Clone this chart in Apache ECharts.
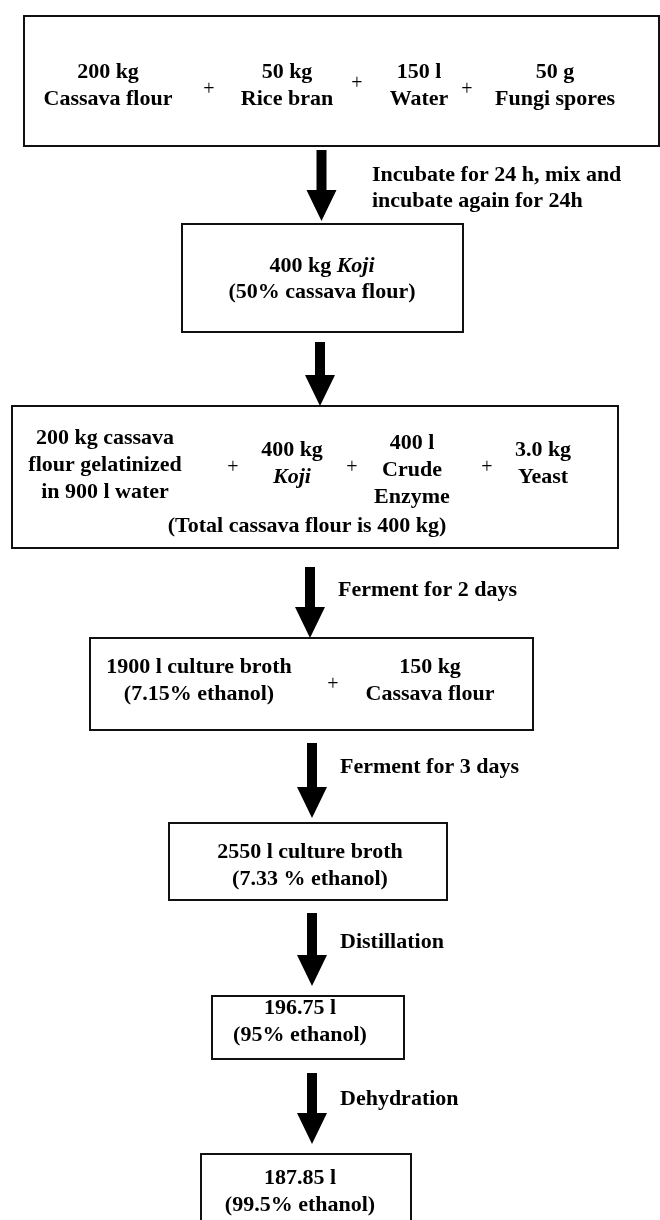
<!DOCTYPE html>
<html>
<head>
<meta charset="utf-8">
<script src="https://cdn.jsdelivr.net/npm/echarts@6/dist/echarts.min.js"></script>
<style>
  html, body { margin: 0; padding: 0; background: #fff; }
  #flow-chart { width: 660px; height: 1220px; }
</style>
</head>
<body>
<div id="flow-chart"></div>
<script>
// text of every step, top to bottom ({i|..} = italic)
const mixInputs = [['200 kg', 'Cassava flour'], ['50 kg', 'Rice bran'], ['150 l', 'Water'], ['50 g', 'Fungi spores']]
const kojiLines = ['400 kg {i|Koji}', '(50% cassava flour)']
const fermInputs = [
  ['200 kg cassava', 'flour gelatinized', 'in 900 l water'],
  ['400 kg', '{i|Koji}'],
  ['400 l', 'Crude', 'Enzyme'],
  ['3.0 kg', 'Yeast']
]
const fermNote = '(Total cassava flour is 400 kg)'
const feedInputs = [['1900 l culture broth', '(7.15% ethanol)'], ['150 kg', 'Cassava flour']]
const brothLines = ['2550 l culture broth', '(7.33 % ethanol)']
const distLines = ['196.75 l', '(95% ethanol)']
const finalLines = ['187.85 l', '(99.5% ethanol)']
const stepLabels = [
  ['Incubate for 24 h, mix and', 'incubate again for 24h'],
  [],
  ['Ferment for 2 days'],
  ['Ferment for 3 days'],
  ['Distillation'],
  ['Dehydration']
]

// layout of the drawing (pixels)
const boxRects = [
  [24, 16, 635, 130],
  [182, 224, 281, 108],
  [12, 406, 606, 142],
  [90, 638, 443, 92],
  [169, 823, 278, 77],
  [212, 996, 192, 63],
  [201, 1154, 210, 100]
]
const arrowPos = [[321.5, 150, 221], [320, 342, 406], [310, 567, 638], [312, 743, 818], [312, 913, 986], [312, 1073, 1144]]
const labelPos = [[372, 175, 26], null, [338, 590, 26], [340, 767, 26], [340, 942, 26], [340, 1099, 26]]

const FONT = '"Liberation Serif", "Times New Roman", serif'
const LINE = 27

const elements = []

function addText (txt, x, y, opts = {}) {
  elements.push({
    type: 'text',
    x: x,
    y: y,
    z: 10,
    style: {
      text: txt,
      fill: '#000',
      fontFamily: FONT,
      fontSize: opts.size || 22,
      fontWeight: opts.weight || 'bold',
      align: opts.align || 'center',
      verticalAlign: 'middle',
      textAlign: opts.align || 'center',
      textVerticalAlign: 'middle',
      rich: {
        i: { fontFamily: FONT, fontSize: 22, fontWeight: 'bold', fontStyle: 'italic', fill: '#000' }
      }
    }
  })
}

function addLines (lines, x, y0, opts) {
  lines.forEach((l, i) => addText(l, x, y0 + i * LINE, opts))
}

function addPlus (x, y) {
  addText('+', x, y, { weight: 'normal', size: 20 })
}

boxRects.forEach(([x, y, w, h]) => {
  elements.push({
    type: 'rect',
    z: 1,
    shape: { x: x, y: y, width: w, height: h },
    style: { fill: '#fff', stroke: '#111', lineWidth: 2 }
  })
})

arrowPos.forEach(([cx, top, tip]) => {
  const neck = tip - 31
  elements.push({
    type: 'polygon',
    z: 5,
    shape: {
      points: [[cx - 5, top], [cx + 5, top], [cx + 5, neck], [cx + 15, neck], [cx, tip], [cx - 15, neck], [cx - 5, neck]]
    },
    style: { fill: '#000' }
  })
})

labelPos.forEach((p, i) => {
  if (!p) return
  stepLabels[i].forEach((l, j) => addText(l, p[0], p[1] + j * p[2], { align: 'left' }))
})

// box 1
const mixX = [108, 287, 419, 555]
mixInputs.forEach((col, i) => addLines(col, mixX[i], 72))
;[[209, 90], [357, 84], [467, 90]].forEach(([x, y]) => addPlus(x, y))

// box 2
addText(kojiLines[0], 322, 266)
addText(kojiLines[1], 322, 292)

// box 3
const fermX = [105, 292, 412, 543]
const fermY = [438, 450, 443, 450]
fermInputs.forEach((col, i) => addLines(col, fermX[i], fermY[i]))
;[233, 352, 487].forEach(x => addPlus(x, 468))
addText(fermNote, 307, 526)

// box 4
addLines(feedInputs[0], 199, 667)
addLines(feedInputs[1], 430, 667)
addPlus(333, 685)

// boxes 5-7
addLines(brothLines, 310, 852)
addLines(distLines, 300, 1008)
addLines(finalLines, 300, 1178)

const chart = echarts.init(document.getElementById('flow-chart'))
chart.setOption({
  backgroundColor: '#fff',
  animation: false,
  graphic: { elements: elements }
})
</script>
</body>
</html>
